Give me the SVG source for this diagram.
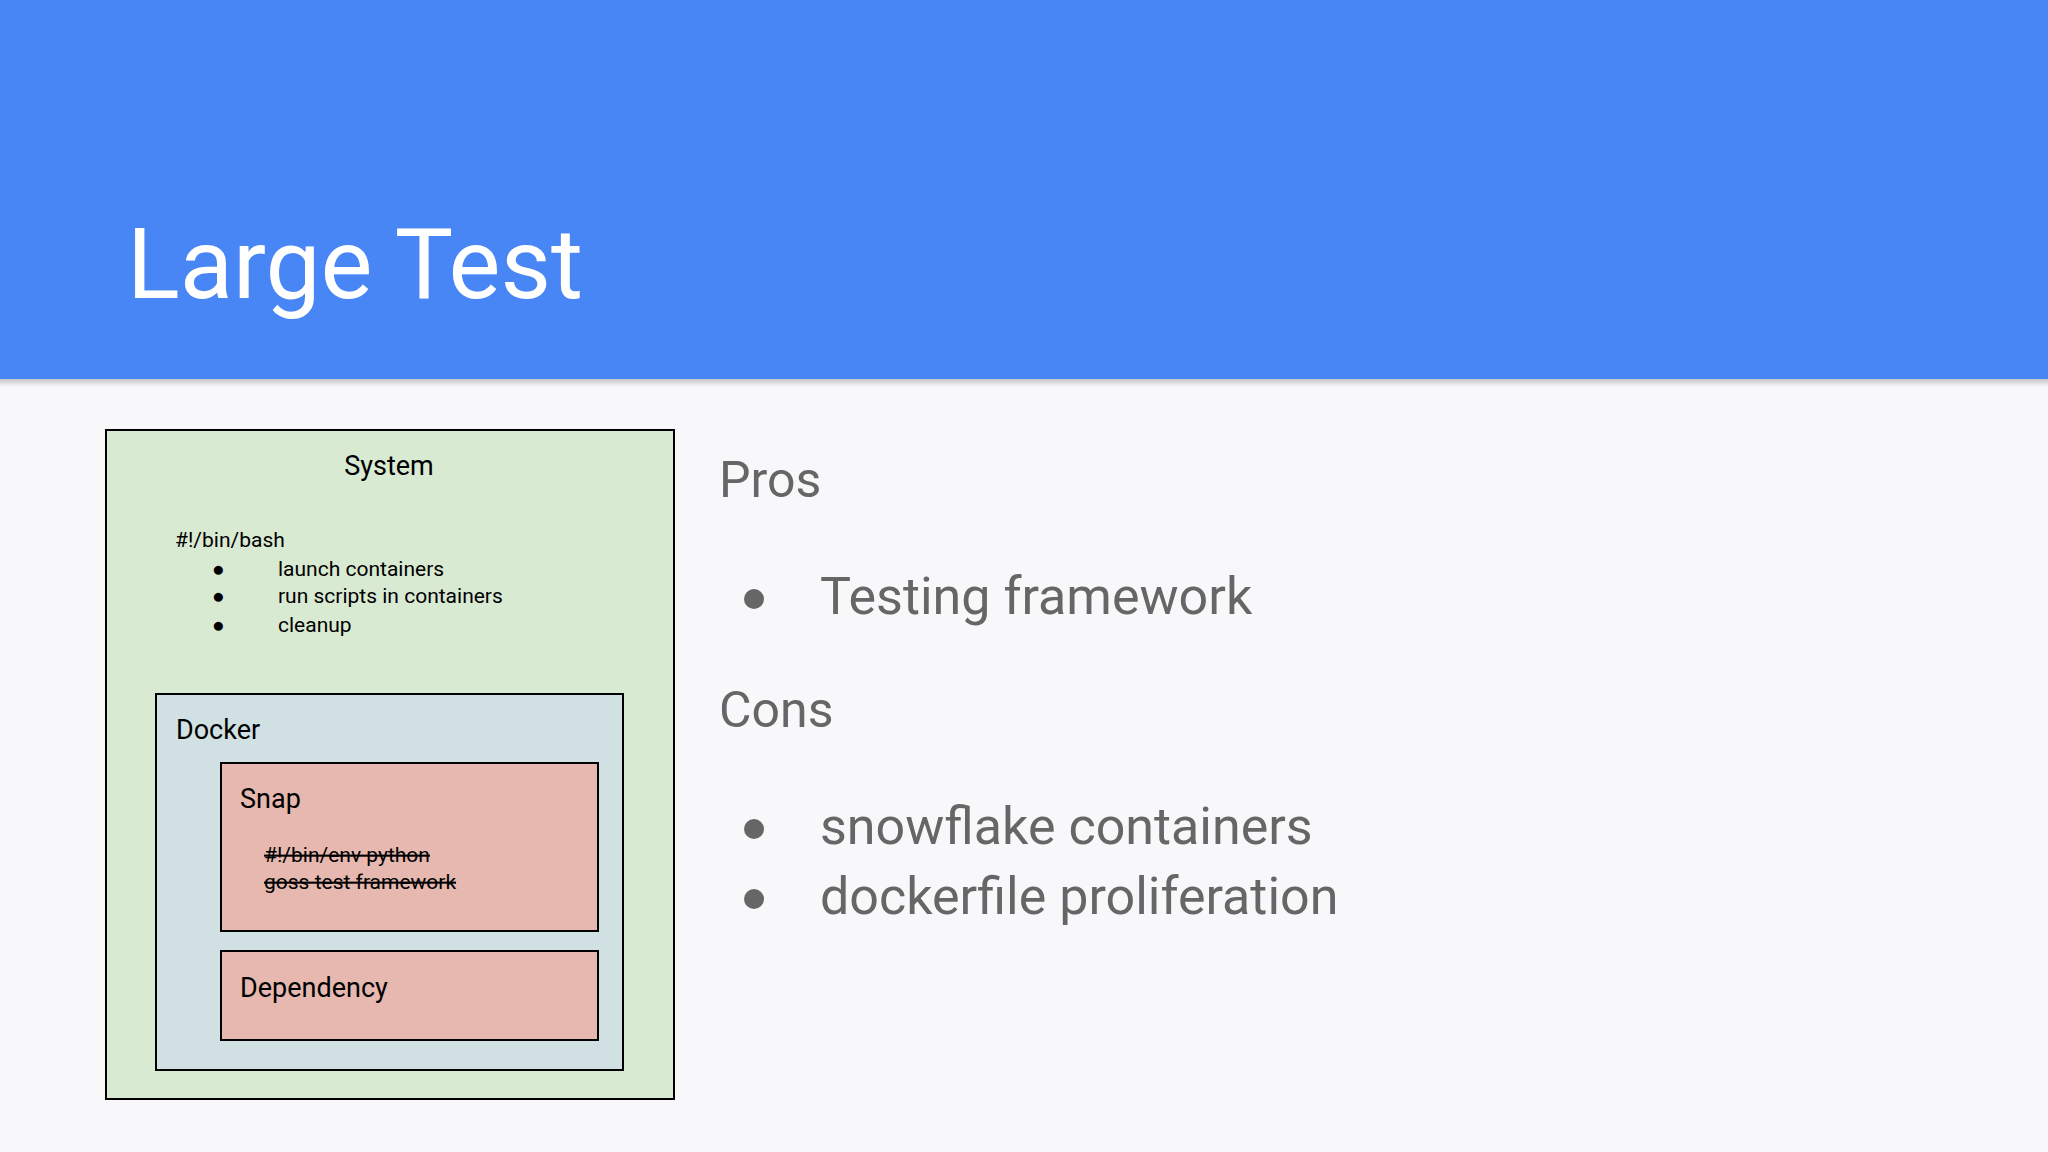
<svg xmlns="http://www.w3.org/2000/svg" width="2048" height="1152" viewBox="0 0 2048 1152">
<defs>
<linearGradient id="sh" x1="0" y1="0" x2="0" y2="1"><stop offset="0" stop-color="#000" stop-opacity="0.2"/><stop offset="1" stop-color="#000" stop-opacity="0"/></linearGradient>
</defs>
<style>
text{font-family:Roboto,"Liberation Sans",sans-serif}
.box{stroke:#000;stroke-width:2}
.s{font-size:21px;fill:#000}
.m{font-size:27px;fill:#000}
.g{fill:#666}
.b{font-size:52px}
</style>
<rect width="2048" height="1152" fill="#f8f8fa"/>
<rect width="2048" height="379" fill="#4885f5"/>
<rect y="379" width="2048" height="8" fill="url(#sh)"/>
<text x="127" y="298" font-size="98" fill="#fff">Large Test</text>
<g id="system">
<rect class="box" x="106" y="430" width="568" height="669" fill="#d9ead3"/>
<text class="m" x="389" y="475" text-anchor="middle">System</text>
<text class="s" x="175" y="547">#!/bin/bash</text>
<text class="s" x="212" y="576">●</text><text class="s" x="278" y="576">launch containers</text>
<text class="s" x="212" y="603">●</text><text class="s" x="278" y="603">run scripts in containers</text>
<text class="s" x="212" y="632">●</text><text class="s" x="278" y="632">cleanup</text>
</g>
<g id="docker">
<rect class="box" x="156" y="694" width="467" height="376" fill="#d0e0e3"/>
<text class="m" x="176" y="739">Docker</text>
</g>
<g id="snap">
<rect class="box" x="221" y="763" width="377" height="168" fill="#e6b8af"/>
<text class="m" x="240" y="808">Snap</text>
<text class="s" x="264" y="862" text-decoration="line-through">#!/bin/env python</text>
<text class="s" x="264" y="889" text-decoration="line-through">goss test framework</text>
</g>
<g id="dependency">
<rect class="box" x="221" y="951" width="377" height="89" fill="#e6b8af"/>
<text class="m" x="240" y="997">Dependency</text>
</g>
<g id="connectors"/>
<g id="pros">
<text class="g" x="719" y="497" font-size="50">Pros</text>
<circle cx="754" cy="599" r="10" fill="#666"/>
<text class="g b" x="820" y="614">Testing framework</text>
<text class="g" x="719" y="727" font-size="50">Cons</text>
<circle cx="754" cy="829" r="10" fill="#666"/>
<text class="g b" x="820" y="844">snowflake containers</text>
<circle cx="754" cy="899" r="10" fill="#666"/>
<text class="g b" x="820" y="914">dockerfile proliferation</text>
</g>
</svg>
